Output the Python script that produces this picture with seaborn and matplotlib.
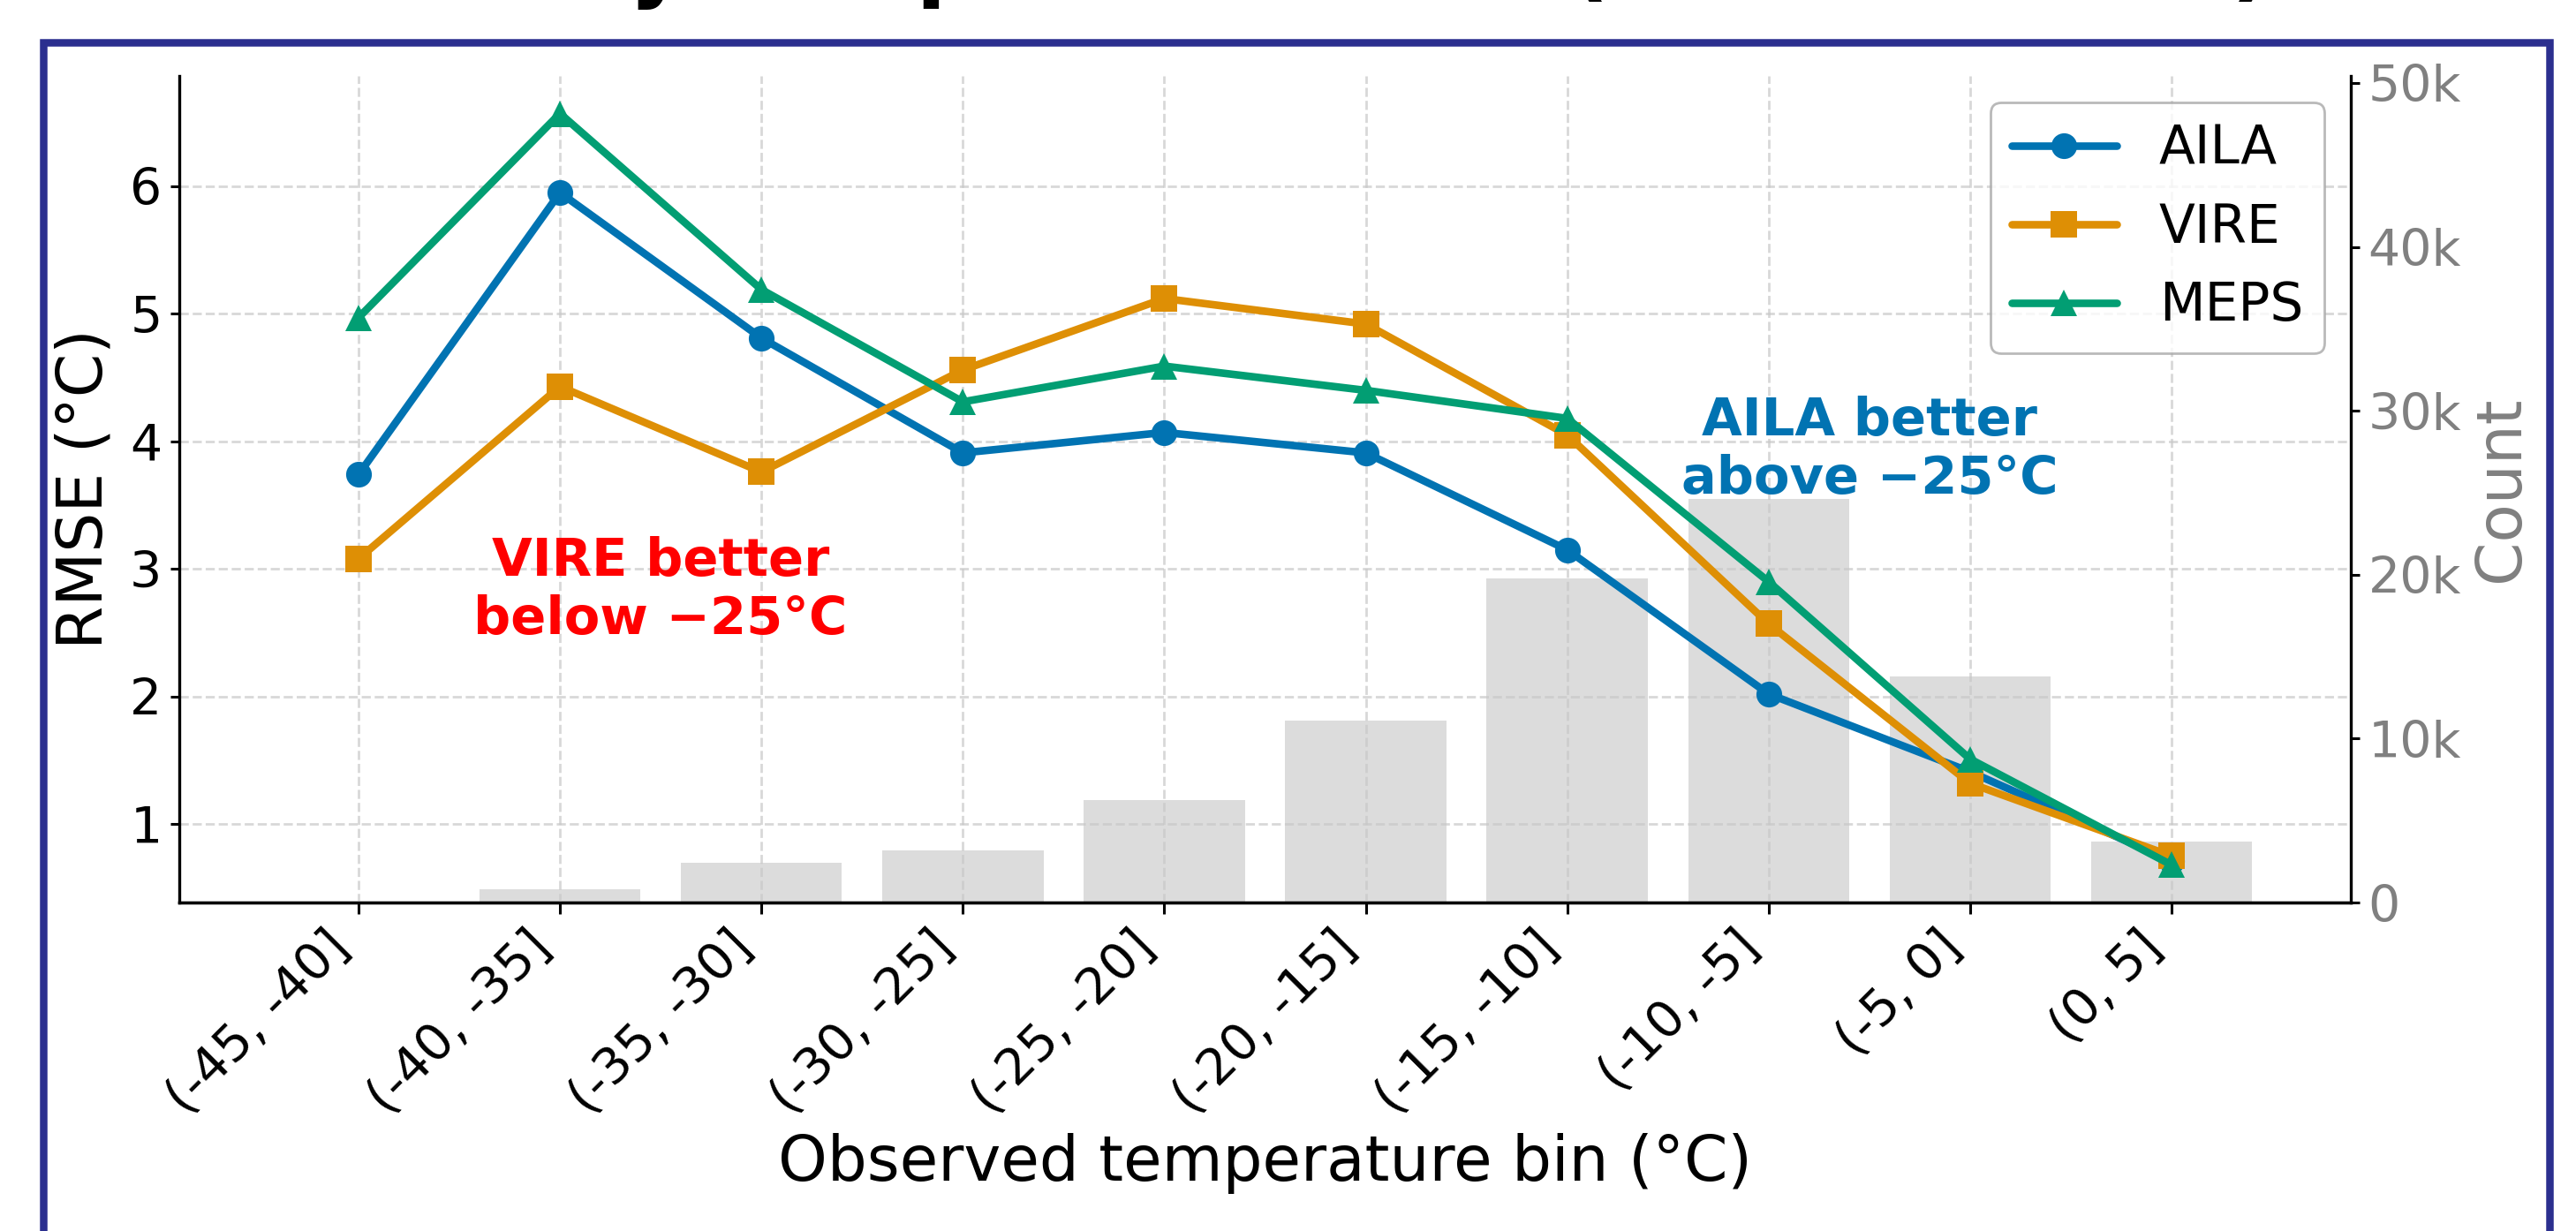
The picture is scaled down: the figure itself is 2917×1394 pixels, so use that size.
import numpy as np
import pandas as pd
import matplotlib
matplotlib.use("Agg")
import matplotlib.pyplot as plt
import seaborn as sns
from matplotlib.patches import Rectangle
from matplotlib.ticker import FuncFormatter, MultipleLocator

# ---------------- data ----------------
bins = ["(-45, -40]", "(-40, -35]", "(-35, -30]", "(-30, -25]", "(-25, -20]",
        "(-20, -15]", "(-15, -10]", "(-10, -5]", "(-5, 0]", "(0, 5]"]
models = ["AILA", "VIRE", "MEPS"]
aila = [3.74, 5.95, 4.81, 3.91, 4.07, 3.91, 3.15, 2.02, 1.41, 0.71]
vire = [3.08, 4.43, 3.76, 4.56, 5.12, 4.92, 4.05, 2.57, 1.32, 0.75]
meps = [4.97, 6.57, 5.19, 4.31, 4.59, 4.40, 4.18, 2.90, 1.51, 0.68]
counts = [40, 800, 2400, 3200, 6250, 11100, 19800, 24600, 13800, 3700]
count_ticks = [0, 10000, 20000, 30000, 40000, 50000]

title_text = "RMSE by Temperature Bin (AILA vs VIRE)"
note_vire = "VIRE better\nbelow \u221225\u00b0C"
note_aila = "AILA better\nabove \u221225\u00b0C"

# ---------------- style ----------------
sns.set_style("ticks")
plt.rcParams["font.family"] = ["DejaVu Sans"]
plt.rcParams["text.color"] = "black"
plt.rcParams["axes.labelcolor"] = "black"
plt.rcParams["xtick.color"] = "black"
plt.rcParams["ytick.color"] = "black"

W, H, DPI = 2917, 1394, 200
fig = plt.figure(figsize=(W / DPI, H / DPI), dpi=DPI)

ax_l, ax_r, ax_t, ax_b = 203, 2662, 86, 1022
ax = fig.add_axes([ax_l / W, 1 - ax_b / H, (ax_r - ax_l) / W, (ax_b - ax_t) / H])
ax2 = ax.twinx()
ax.set_zorder(ax2.get_zorder() + 1)
ax.patch.set_visible(False)

palette = sns.color_palette("colorblind")
colors = {"AILA": palette[0], "VIRE": palette[1], "MEPS": palette[2]}

pos = np.arange(len(bins))
df_counts = pd.DataFrame({"pos": pos, "count": counts})
df = pd.DataFrame({
    "pos": np.tile(pos, 3),
    "rmse": aila + vire + meps,
    "model": np.repeat(models, len(bins)),
})

# bars (counts) on the right axis
sns.barplot(data=df_counts, x="pos", y="count", ax=ax2, native_scale=True,
            color="#dcdcdc", saturation=1, width=0.8, linewidth=0, errorbar=None)

# lines
sns.lineplot(data=df, x="pos", y="rmse", hue="model", style="model",
             hue_order=models, style_order=models,
             markers={"AILA": "o", "VIRE": "s", "MEPS": "^"}, dashes=False,
             palette=colors, linewidth=3.1, markersize=10.5,
             markeredgewidth=0, ax=ax)

ax.set_xlim(-0.89, len(bins) - 1 + 0.89)
ax2.set_ylim(0, max(counts) * 2.05)

# x axis
ax.set_xticks(pos)
ax.set_xticklabels(bins, rotation=45, ha="right", fontsize=20.5)
ax.set_xlabel("Observed temperature bin (\u00b0C)", fontsize=25.5)

# left axis
ax.yaxis.set_major_locator(MultipleLocator(1))
ax.tick_params(axis="y", labelsize=20.5, length=3.5, width=1.1)
ax.tick_params(axis="x", length=4.5, width=1.1)
ax.set_ylabel("RMSE (\u00b0C)", fontsize=25.5, labelpad=6)

# right axis
ax2.set_yticks(count_ticks)
ax2.yaxis.set_major_formatter(FuncFormatter(lambda v, p: "0" if v == 0 else f"{int(round(v / 1000))}k"))
ax2.tick_params(axis="y", labelsize=20.5, labelcolor="#808080", color="black",
                length=3.5, width=1.1)
ax2.set_ylabel("Count", fontsize=25.5, color="#808080")
ax2.set_xlabel("")

# grid
ax.grid(True, linestyle="--", color="#c8c8c8", linewidth=1.0, alpha=0.7)
ax2.grid(False)

# spines
for a in (ax, ax2):
    a.spines["top"].set_visible(False)
    for s in ("left", "bottom", "right"):
        a.spines[s].set_linewidth(1.2)
        a.spines[s].set_color("black")
ax.spines["right"].set_visible(False)
ax2.spines["left"].set_visible(False)

# legend
handles, labels = ax.get_legend_handles_labels()
hl = [(h, l) for h, l in zip(handles, labels) if l in models]
leg = ax.legend([h for h, _ in hl], [l for _, l in hl], loc="upper right",
                fontsize=21.5, frameon=True, fancybox=True)
leg.get_frame().set_edgecolor("#a8a8a8")
for line in leg.get_lines():
    line.set_linewidth(3.1)

# annotations
ax.text(1.5, 2.83, note_vire, color="#FF0000", fontsize=21.3, fontweight="bold",
        ha="center", va="center")
ax.text(7.5, 3.93, note_aila, color=palette[0], fontsize=21.3, fontweight="bold",
        ha="center", va="center")

# cropped title at top and blue frame
fig.text((ax_l + ax_r) / 2 / W, 1 + 11 / H, title_text, ha="center", va="baseline",
         fontsize=35.8, fontweight="bold", color="black")
frame = Rectangle((49 / W, -0.5), (2887 - 49) / W, 0.5 + 1 - 47.5 / H,
                  transform=fig.transFigure, fill=False, edgecolor="#2B2F8F",
                  linewidth=8.5 * 72 / DPI, zorder=10)
fig.add_artist(frame)

fig.savefig("out.png", dpi=DPI)
